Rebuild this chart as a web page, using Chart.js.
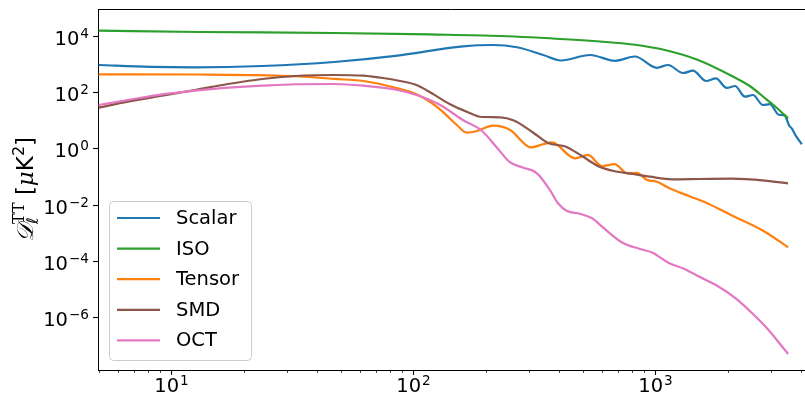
<!DOCTYPE html>
<html>
<head>
<meta charset="utf-8">
<script src="https://cdn.jsdelivr.net/npm/chart.js@4.4.1/dist/chart.umd.min.js"></script>
<style>
  html, body { margin: 0; padding: 0; background: #fff; }
  #wrap { width: 805px; height: 396px; position: relative; }
</style>
</head>
<body>
<div id="wrap"><canvas id="clChart"></canvas></div>
<script>
/* =============================================
   TT power spectra — scalar / iso / tensor / defects
   ============================================= */

// multipole ell and D_ell^TT [muK^2] for each component
const ellScalar = [5, 8.2, 12.5, 23.7, 47, 86, 160, 213, 268, 344, 407, 536, 681, 822, 1014, 1127, 1300, 1429, 1618, 1778, 1972, 2133, 2344, 2529, 2780, 2972, 3236, 3428, 3565, 3664, 3811, 4027];
const dlScalar  = [910, 785, 754, 839, 1164, 1950, 4200, 4675, 3870, 2062, 1316, 2062, 1283, 1824, 724, 910, 473, 571, 246, 302, 139, 163, 68, 78, 34.5, 37, 15.5, 14.5, 6.5, 5, 2.7, 1.39];

const ellIso = [5, 13.1, 47, 117, 228, 444, 590, 807, 1094, 1500, 2070, 2455, 2864, 3177, 3532];
const dlIso  = [15060, 13530, 12480, 11040, 9750, 7330, 6220, 4870, 3100, 1370, 370, 163, 56, 27, 11.6];

const ellTensor = [5, 13, 22, 34, 47, 62, 86, 103, 117, 132, 151, 166, 183, 213, 251, 306, 343, 373, 465, 526, 601, 677, 766, 839, 923, 1014, 1137, 1390, 1636, 2051, 2831, 3532];
const dlTensor  = [425, 418, 400, 356, 290, 246, 135, 83, 45, 20, 6.7, 3.58, 4.1, 6.35, 4.47, 1.07, 1.39, 1.61, 0.44, 0.58, 0.235, 0.272, 0.129, 0.133, 0.075, 0.065, 0.039, 0.0194, 0.0111, 0.00427, 0.00109, 0.000304];

const ellSmd = [5, 6.6, 9.15, 12.5, 17.1, 23.7, 32.4, 47, 62, 76, 88, 103, 119, 141, 166, 192, 228, 260, 312, 360, 427, 497, 584, 687, 807, 949, 1170, 1528, 2070, 2832, 3532];
const dlSmd  = [27.7, 45.2, 73.9, 118, 192, 290, 370, 402, 379, 307, 246, 177, 90, 37.5, 20, 12.9, 12.6, 9.72, 3.64, 1.54, 1.14, 0.53, 0.226, 0.15, 0.122, 0.098, 0.079, 0.081, 0.083, 0.071, 0.057];

const ellOct = [5, 6.6, 9.15, 12.5, 17.1, 23.7, 32.4, 47, 62, 86, 103, 129, 160, 192, 221, 251, 283, 324, 366, 395, 431, 487, 547, 607, 728, 863, 968, 1137, 1312, 1542, 1778, 2153, 2506, 2891, 3532];
const dlOct  = [34.5, 52, 82.8, 111, 142, 167, 188, 192, 167, 118, 78, 34.5, 10.1, 4.12, 1.07, 0.313, 0.208, 0.129, 0.033, 0.0114, 0.00593, 0.00475, 0.00326, 0.00154, 0.000451, 0.000265, 0.000199, 8.4e-5, 5.28e-5, 2.57e-5, 1.39e-5, 4.6e-6, 1.41e-6, 4.03e-7, 4.93e-8];

const seriesNames = ['Scalar', 'ISO', 'Tensor', 'SMD', 'OCT'];
const seriesColors = ['#1f77b4', '#2ca02c', '#ff7f0e', '#8c564b', '#e377c2'];

// axis ticks: value + exponent text
const xTickValues = [10, 100, 1000];
const xTickExps   = ['1', '2', '3'];
const yTickValues = [1e-6, 1e-4, 1e-2, 1, 1e2, 1e4];
const yTickExps   = ['\u22126', '\u22124', '\u22122', '0', '2', '4'];

const FONT = "'DejaVu Sans', sans-serif";
const TICK_PX = 19.5;
const SUP_PX = 13.6;

/* ======= HELPERS ======= */
function toPoints(ell, dl) {
  return ell.map((l, i) => ({ x: l, y: dl[i] }));
}

// "10" with a raised exponent, anchored at (x, y) baseline
function drawPower(ctx, exp, x, y, align) {
  ctx.font = `${TICK_PX}px ${FONT}`;
  const wb = ctx.measureText('10').width;
  ctx.font = `${SUP_PX}px ${FONT}`;
  const ws = ctx.measureText(exp).width;
  const x0 = align === 'right' ? x - wb - ws - 1 : x - (wb + ws + 1) / 2;
  ctx.font = `${TICK_PX}px ${FONT}`;
  ctx.fillText('10', x0, y);
  ctx.font = `${SUP_PX}px ${FONT}`;
  ctx.fillText(exp, x0 + wb + 1, y - 7.5);
}

/* ======= AXES DECORATION PLUGIN ======= */
const axesDecor = {
  id: 'axesDecor',
  afterDraw(chart) {
    const { ctx, chartArea: ca } = chart;
    const xs = chart.scales.x, ys = chart.scales.y;
    ctx.save();
    ctx.fillStyle = '#000';
    ctx.strokeStyle = '#000';
    ctx.textAlign = 'left';
    ctx.textBaseline = 'alphabetic';

    // top spine
    ctx.lineWidth = 1;
    ctx.beginPath();
    ctx.moveTo(ca.left, ca.top + 0.5);
    ctx.lineTo(ca.right, ca.top + 0.5);
    ctx.stroke();

    // x ticks (major + minor)
    for (let dec = 1; dec <= 1000; dec *= 10) {
      for (let m = 2; m <= 9; m++) {
        const v = m * dec;
        if (v < xs.min || v > xs.max) continue;
        const px = Math.round(xs.getPixelForValue(v)) + 0.5;
        ctx.lineWidth = 0.8;
        ctx.beginPath();
        ctx.moveTo(px, ca.bottom);
        ctx.lineTo(px, ca.bottom + 2.8);
        ctx.stroke();
      }
    }
    xTickValues.forEach((v, i) => {
      const px = Math.round(xs.getPixelForValue(v)) + 0.5;
      ctx.lineWidth = 1.1;
      ctx.beginPath();
      ctx.moveTo(px, ca.bottom);
      ctx.lineTo(px, ca.bottom + 4.9);
      ctx.stroke();
      drawPower(ctx, xTickExps[i], px, ca.bottom + 22, 'center');
    });

    // y ticks
    yTickValues.forEach((v, i) => {
      const py = Math.round(ys.getPixelForValue(v)) + 0.5;
      ctx.lineWidth = 1.1;
      ctx.beginPath();
      ctx.moveTo(ca.left, py);
      ctx.lineTo(ca.left - 4.9, py);
      ctx.stroke();
      drawPower(ctx, yTickExps[i], ca.left - 9, py + 8.5, 'right');
    });

    drawYTitle(ctx, ca);
    drawLegend(chart);
    ctx.restore();
  }
};

/* ======= Y TITLE: D_ell^TT [muK^2] ======= */
function drawYTitle(ctx, ca) {
  const big = 23, small = 16;
  const parts = [
    { t: '\u{1D49F}', font: `italic ${big}px 'DejaVu Serif', serif`, dy: 0 },
    { stack: [
        { t: 'TT', font: `${small}px 'DejaVu Serif', serif`, dy: -9 },
        { t: '\u2113', font: `${small}px ${FONT}`, dy: 5 }
      ] },
    { t: ' [', font: `${big}px ${FONT}`, dy: 0 },
    { t: '\u03BC', font: `italic ${big}px 'DejaVu Serif', serif`, dy: 0 },
    { t: 'K', font: `${big}px ${FONT}`, dy: 0 },
    { t: '2', font: `${small}px ${FONT}`, dy: -9 },
    { t: ']', font: `${big}px ${FONT}`, dy: 0 }
  ];
  const widthOf = p => {
    if (p.stack) return Math.max(...p.stack.map(widthOf));
    ctx.font = p.font;
    return ctx.measureText(p.t).width;
  };
  const total = parts.reduce((s, p) => s + widthOf(p), 0);

  ctx.save();
  ctx.translate(33, (ca.top + ca.bottom) / 2);
  ctx.rotate(-Math.PI / 2);
  let x = -total / 2;
  parts.forEach(p => {
    const w = widthOf(p);
    (p.stack || [p]).forEach(q => {
      ctx.font = q.font;
      ctx.fillText(q.t, x, q.dy);
    });
    x += w;
  });
  ctx.restore();
}

/* ======= LEGEND ======= */
function drawLegend(chart) {
  const { ctx, chartArea: ca } = chart;
  const bx = ca.left + 11, bw = 142, bh = 159;
  const by = ca.bottom - 10 - bh;

  ctx.save();
  ctx.fillStyle = 'rgba(255,255,255,0.8)';
  ctx.strokeStyle = '#cccccc';
  ctx.lineWidth = 1;
  ctx.beginPath();
  ctx.roundRect(bx + 0.5, by + 0.5, bw, bh, 4);
  ctx.fill();
  ctx.stroke();

  ctx.font = `${TICK_PX}px ${FONT}`;
  ctx.textBaseline = 'middle';
  chart.data.datasets.forEach((ds, i) => {
    const ry = by + 17 + i * 30.6;
    ctx.strokeStyle = ds.borderColor;
    ctx.lineWidth = 2.2;
    ctx.beginPath();
    ctx.moveTo(bx + 8, ry);
    ctx.lineTo(bx + 51, ry);
    ctx.stroke();
    ctx.fillStyle = '#000';
    ctx.fillText(ds.label, bx + 67, ry + 1);
  });
  ctx.restore();
}

/* ======= CHART ======= */
const seriesData = [
  toPoints(ellScalar, dlScalar),
  toPoints(ellIso, dlIso),
  toPoints(ellTensor, dlTensor),
  toPoints(ellSmd, dlSmd),
  toPoints(ellOct, dlOct)
];

const ctx = document.getElementById('clChart').getContext('2d');
const clChart = new Chart(ctx, {
  type: 'line',
  data: {
    datasets: seriesNames.map((name, i) => ({
      label: name,
      data: seriesData[i],
      borderColor: seriesColors[i],
      backgroundColor: seriesColors[i],
      borderWidth: 2.2,
      pointRadius: 0,
      fill: false,
      cubicInterpolationMode: 'monotone',
      order: seriesNames.length - 1 - i
    }))
  },
  options: {
    responsive: true,
    maintainAspectRatio: false,
    animation: false,
    devicePixelRatio: 1,
    events: [],
    layout: { padding: { left: 98, top: 9, right: 0, bottom: 26 } },
    plugins: {
      legend: { display: false },
      tooltip: { enabled: false }
    },
    scales: {
      x: {
        type: 'logarithmic',
        min: 4.97,
        max: 4150,
        grid: { display: false, drawTicks: false },
        border: { display: true, color: '#000', width: 1 },
        ticks: { display: false }
      },
      y: {
        type: 'logarithmic',
        min: 1.33e-8,
        max: 8.87e4,
        grid: { display: false, drawTicks: false },
        border: { display: true, color: '#000', width: 1 },
        ticks: { display: false }
      }
    }
  },
  plugins: [axesDecor]
});
</script>
</body>
</html>
